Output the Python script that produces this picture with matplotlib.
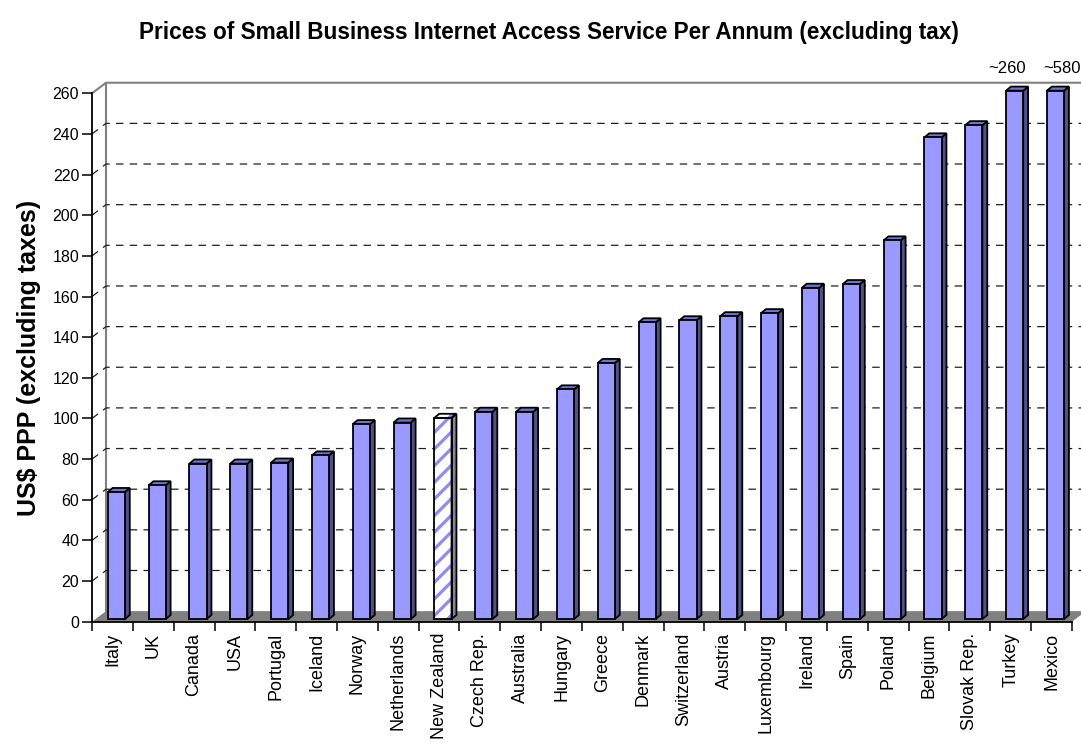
import numpy as np
import matplotlib
matplotlib.use("Agg")
import matplotlib.pyplot as plt
from matplotlib.patches import Rectangle, Polygon

plt.rcParams['font.family'] = ['Liberation Sans', 'DejaVu Sans']
plt.rcParams['hatch.linewidth'] = 2.3

# data (US$ PPP per annum, excluding taxes)
countries = ["Italy", "UK", "Canada", "USA", "Portugal", "Iceland", "Norway",
             "Netherlands", "New Zealand", "Czech Rep.", "Australia", "Hungary",
             "Greece", "Denmark", "Switzerland", "Austria", "Luxembourg",
             "Ireland", "Spain", "Poland", "Belgium", "Slovak Rep.", "Turkey", "Mexico"]
prices = [62.5, 65.8, 76.5, 76.5, 77, 80.5, 95.9, 96.7, 99, 102, 102, 113,
          126, 146, 147, 149, 150.5, 163, 164.8, 186.3, 237, 243, 260, 580]
highlight = "New Zealand"
y_max = 260
y_ticks = list(range(0, 261, 20))

# 3D look (in data units)
DX, DY = 0.343, 5.2          # depth of floor / back wall
BX, BW = 0.385, 0.42         # front face left offset and width inside a category
BDX, BDY = 0.12, 2.0         # bar depth
BASE = 1.3                   # front face base above the floor front edge

front_c = '#9999FF'
side_c = '#50508C'
top_c = '#7373D6'

fig = plt.figure(figsize=(10.81, 7.42), dpi=100)
ax = fig.add_axes([92 / 1081, (742 - 621.7) / 742, 980 / 1081, 528.4 / 742])
n = len(countries)
ax.set_xlim(0, n)
ax.set_ylim(0, y_max)

# back wall frame and gridlines
ax.plot([0, DX, n + DX], [y_max, y_max + DY, y_max + DY], color='#808080', lw=1.5,
        clip_on=False, zorder=1)
ax.plot([DX, DX], [DY, y_max + DY], color='#808080', lw=1.5, clip_on=False, zorder=1)
for v in y_ticks[1:-1]:
    ax.plot([0, DX, n + DX], [v, v + DY, v + DY], color='#202020', lw=0.9,
            ls=(0, (6, 5)), clip_on=False, zorder=1)

# floor
ax.add_patch(Polygon([(0, 0), (n, 0), (n + DX, DY), (DX, DY)], closed=True,
                     facecolor='#808080', edgecolor='none', clip_on=False, zorder=2))

# bars
shown = np.minimum(prices, y_max)
for i, (name, v) in enumerate(zip(countries, shown)):
    x0 = i + BX
    x1 = x0 + BW
    y0 = BASE
    y1 = BASE + v
    side = [(x1, y0), (x1 + BDX, y0 + BDY), (x1 + BDX, y1 + BDY), (x1, y1)]
    top = [(x0, y1), (x0 + BDX, y1 + BDY), (x1 + BDX, y1 + BDY), (x1, y1)]
    if name == highlight:
        ax.add_patch(Rectangle((x0, y0), BW, v, facecolor='white', edgecolor='#8C8CF5',
                               lw=0, hatch='//', clip_on=False, zorder=3))
        ax.add_patch(Polygon(side, closed=True, facecolor='#8A8A8A', edgecolor='#7A7AC8',
                             lw=0, hatch='//', clip_on=False, zorder=3))
        ax.add_patch(Polygon(top, closed=True, facecolor='white', edgecolor='#8C8CF5',
                             lw=0, hatch='//', clip_on=False, zorder=3))
        for pts in (side, top):
            ax.add_patch(Polygon(pts, closed=True, facecolor='none', edgecolor='black',
                                 lw=1.3, clip_on=False, zorder=4))
        ax.add_patch(Rectangle((x0, y0), BW, v, facecolor='none', edgecolor='black',
                               lw=1.3, clip_on=False, zorder=4))
    else:
        ax.add_patch(Polygon(side, closed=True, facecolor=side_c, edgecolor='black',
                             lw=1.3, clip_on=False, zorder=3))
        ax.add_patch(Polygon(top, closed=True, facecolor=top_c, edgecolor='black',
                             lw=1.3, clip_on=False, zorder=3))
        ax.add_patch(Rectangle((x0, y0), BW, v, facecolor=front_c, edgecolor='black',
                               lw=1.3, clip_on=False, zorder=4))

# labels for bars cut off at the top of the scale
for i, p in enumerate(prices):
    if p >= y_max:
        xt = i + 0.42 if i < n - 1 else i + 0.76
        ax.text(xt, y_max + 12, "~%d" % p, ha='center', va='center', fontsize=12)

# axes
for s in ['top', 'right']:
    ax.spines[s].set_visible(False)
ax.spines['left'].set_linewidth(1.3)
ax.spines['bottom'].set_linewidth(1.3)
ax.set_yticks(y_ticks)
ax.tick_params(axis='y', direction='out', length=7.2, width=1.1, pad=2, labelsize=11.5)
ax.set_xticks(np.arange(0, n + 1))
ax.set_xticklabels([])
ax.tick_params(axis='x', which='major', direction='out', length=6.5, width=1.1)
ax.set_xticks(np.arange(n) + 0.5, minor=True)
ax.set_xticklabels(countries, minor=True, rotation=90, va='top', ha='center')
ax.tick_params(axis='x', which='minor', length=0, pad=8, labelsize=13)
ax.set_ylabel("US$ PPP (excluding taxes)", fontsize=18, fontweight='bold', labelpad=8)

fig.text(549 / 1081, 1 - 33 / 742,
         "Prices of Small Business Internet Access Service Per Annum (excluding tax)",
         ha='center', va='center', fontsize=16.3, fontweight='bold')

fig.savefig('out.png', dpi=100)
